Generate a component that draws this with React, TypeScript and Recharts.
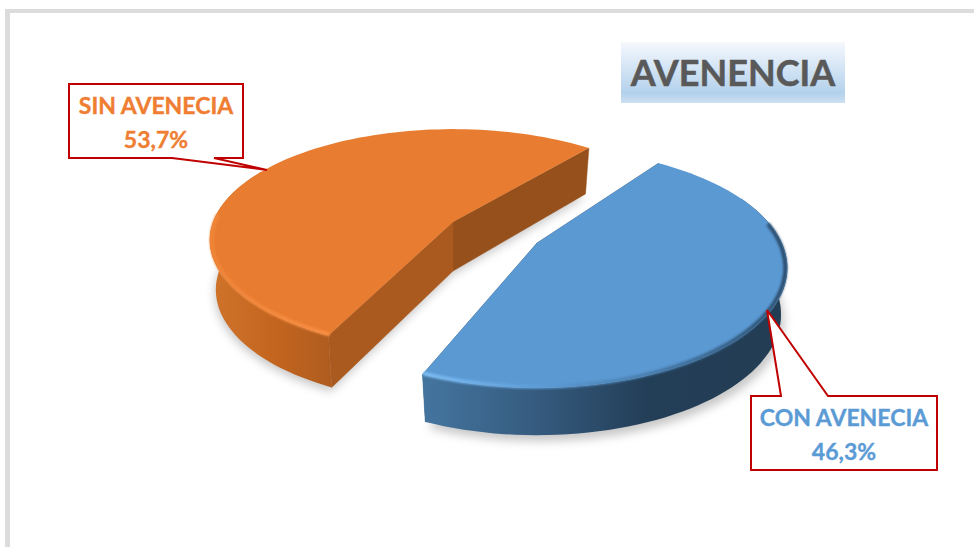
import React from "react"
import { PieChart, Pie } from "recharts"

const categories = ["SIN AVENECIA", "CON AVENECIA"]
const shares = [53.7, 46.3]
const title = "AVENENCIA"

const chartData = categories.map((name, i) => ({ name, value: shares[i] }))

// fake 3D: the disc is tilted with a small perspective, each slice pulled out from the centre
const SHRINK = 0.025
const CX = 495
const CY = 232.5

const looks = [
  {
    dx: -42, dy: -10.5, scale: 1, twist: -3.6, tilt: 0.45, persp: 0.163, depth: 49, slope: 6.5,
    top: "#e87c30", text: "#ef7d32",
    wallId: "wallOrange", rimId: "rimOrange", rimFrom: 176, rimTo: 243.7, wallFrom: 150, wallTo: 360,
    inner: ["#96501b", "#ab5a1f"],
    shadow: { x: -1, y: 4 },
    box: { x: 69, y: 84, w: 174, h: 74, tail: [[214, 158], [267, 170], [172, 158]], side: "bottom" },
  },
  {
    dx: 42, dy: 10.5, scale: 1.02, twist: 0.5, tilt: 0.4683, persp: 0.2085, depth: 46, slope: 5,
    top: "#5b99d3", text: "#5b9bd5",
    wallId: "wallBlue", rimId: "rimBlue", rimFrom: 247.8, rimTo: 370, wallFrom: 180, wallTo: 385,
    inner: ["#3a6288", "#3a6288"],
    shadow: { x: 3, y: 6 },
    box: { x: 751, y: 396, w: 186, h: 74, tail: [[781, 396], [767, 310], [828, 396]], side: "top" },
  },
]

type Frame = {
  ox: number; oy: number; r: number; tilt: number; persp: number
  depth: number; slope: number; bottom?: boolean
}

function project(deg: number, o: Frame) {
  const t = (deg * Math.PI) / 180
  const px = Math.cos(t)
  const py = -Math.sin(t)
  const w = 1 - o.persp * py
  let x = (o.r * px) / w
  let y = (o.r * o.tilt * py) / w
  if (o.bottom) {
    x *= 1 - SHRINK
    y = y * (1 - SHRINK) + o.depth + o.slope * py
  }
  return [o.ox + x, o.oy + y]
}

function arc(from: number, to: number, o: Frame) {
  const pts: number[][] = []
  for (let a = from; a < to; a += 2) pts.push(project(a, o))
  pts.push(project(to, o))
  return pts
}

const toPath = (pts: number[][], close = true) =>
  "M" + pts.map((p) => `${p[0].toFixed(1)} ${p[1].toFixed(1)}`).join("L") + (close ? "Z" : "")

function Slice3D(props: any) {
  const { cx, cy, outerRadius, startAngle, endAngle, index } = props
  const look = looks[index]
  const r = outerRadius * look.scale
  const ox = cx + look.dx
  const oy = cy + look.dy
  const topO = { ox, oy, r, tilt: look.tilt, persp: look.persp, depth: look.depth, slope: look.slope }
  const botO = { ...topO, bottom: true }
  const from = startAngle + look.twist
  const to = endAngle + look.twist

  const topArc = arc(from, to, topO)
  const botArc = arc(from, to, botO)
  const apexBot = [ox, oy + look.depth]
  // only the part of the rim that faces the viewer gets an outer wall
  const wallA = Math.max(from, look.wallFrom)
  const wallB = Math.min(to, look.wallTo)
  const wallPath = toPath([...arc(wallA, wallB, topO), ...arc(wallA, wallB, botO).reverse()])
  const startWall = toPath([[ox, oy], topArc[0], botArc[0], apexBot])
  const endWall = toPath([[ox, oy], topArc[topArc.length - 1], botArc[botArc.length - 1], apexBot])
  const bottomFace = [apexBot, ...botArc].map((p) => [p[0] + look.shadow.x, p[1] + look.shadow.y])

  return (
    <g>
      <path d={toPath(bottomFace)} fill="#000" fillOpacity={0.22} filter="url(#softShadow)" />
      <path d={startWall} fill={look.inner[0]} stroke={look.inner[0]} strokeWidth={0.5} />
      <path d={endWall} fill={look.inner[1]} stroke={look.inner[1]} strokeWidth={0.5} />
      <path d={wallPath} fill={`url(#${look.wallId})`} />
      <path d={toPath([[ox, oy], ...topArc])} fill={look.top} />
      <path
        d={toPath(arc(look.rimFrom, look.rimTo, { ...topO, r: r - 2 }), false)}
        fill="none"
        stroke={`url(#${look.rimId})`}
        strokeWidth={4}
        filter="url(#softRim)"
      />
    </g>
  )
}

function Callout(props: any) {
  const { index } = props
  const look = looks[index]
  const b = look.box
  const t = b.tail
  const outline =
    b.side === "bottom"
      ? [[b.x, b.y], [b.x + b.w, b.y], [b.x + b.w, b.y + b.h], ...t, [b.x, b.y + b.h]]
      : [[b.x, b.y], ...t, [b.x + b.w, b.y], [b.x + b.w, b.y + b.h], [b.x, b.y + b.h]]
  const mid = b.x + b.w / 2
  const textStyle = {
    fill: look.text, stroke: look.text, strokeWidth: 0.35,
    fontFamily: "Lato", fontWeight: 700, fontSize: 23,
  }
  return (
    <g>
      <path d={toPath(outline)} fill="#fff" stroke="#c00000" strokeWidth={2} strokeLinejoin="miter" />
      <text x={mid} y={b.y + 30} textAnchor="middle" {...textStyle}>
        {categories[index]}
      </text>
      <text x={mid} y={b.y + 64} textAnchor="middle" {...textStyle}>
        {shares[index].toFixed(1).replace(".", ",")}%
      </text>
    </g>
  )
}

export default function App() {
  return (
    <div style={{ position: "absolute", left: 0, top: 0, width: 974, height: 547, background: "#fff", overflow: "hidden" }}>
      <div style={{ position: "absolute", left: 5, top: 9, width: 969, height: 4, background: "#dcdcdc" }} />
      <div style={{ position: "absolute", left: 5, top: 9, width: 5, height: 538, background: "#dcdcdc" }} />
      <div style={{ position: "absolute", left: 0, top: 0 }}>
        <PieChart width={974} height={547} margin={{ top: 0, right: 0, bottom: 0, left: 0 }}>
          <defs>
            <linearGradient id="wallOrange" gradientUnits="userSpaceOnUse" x1={212} y1={0} x2={336} y2={0}>
              <stop offset="0" stopColor="#cf732b" />
              <stop offset="0.5" stopColor="#c3651f" />
              <stop offset="1" stopColor="#ad5b1f" />
            </linearGradient>
            <linearGradient id="wallBlue" gradientUnits="userSpaceOnUse" x1={423} y1={0} x2={785} y2={0}>
              <stop offset="0" stopColor="#44759f" />
              <stop offset="0.3" stopColor="#365c80" />
              <stop offset="0.62" stopColor="#233e57" />
              <stop offset="1" stopColor="#233d54" />
            </linearGradient>
            <linearGradient id="rimOrange" gradientUnits="userSpaceOnUse" x1={212} y1={0} x2={336} y2={0}>
              <stop offset="0" stopColor="#f08539" />
              <stop offset="1" stopColor="#f78f45" />
            </linearGradient>
            <linearGradient id="rimBlue" gradientUnits="userSpaceOnUse" x1={423} y1={0} x2={785} y2={0}>
              <stop offset="0" stopColor="#7cbcf2" />
              <stop offset="0.3" stopColor="#5f9ed8" />
              <stop offset="0.6" stopColor="#4a7fb0" />
              <stop offset="1" stopColor="#2c4e6e" />
            </linearGradient>
            <filter id="softShadow" x="-10%" y="-10%" width="120%" height="120%">
              <feGaussianBlur stdDeviation={5} />
            </filter>
            <filter id="softRim" x="-10%" y="-10%" width="120%" height="130%">
              <feGaussianBlur stdDeviation={1.3} />
            </filter>
          </defs>
          <Pie
            data={chartData}
            dataKey="value"
            nameKey="name"
            cx={CX}
            cy={CY}
            innerRadius={0}
            outerRadius={240}
            startAngle={54}
            endAngle={414}
            stroke="none"
            shape={Slice3D}
            label={Callout}
            labelLine={false}
            isAnimationActive={false}
          />
        </PieChart>
      </div>
      <div
        style={{
          position: "absolute", left: 621, top: 42, width: 224, height: 61,
          background: "linear-gradient(180deg, #f5f8fd 0%, #b3d1ec 84%, #cde0f2 100%)",
          color: "#595959", fontFamily: "Lato", fontWeight: 700, fontSize: 36,
          lineHeight: "61px", textAlign: "center", WebkitTextStroke: "0.5px #595959",
        }}
      >
        {title}
      </div>
    </div>
  )
}
